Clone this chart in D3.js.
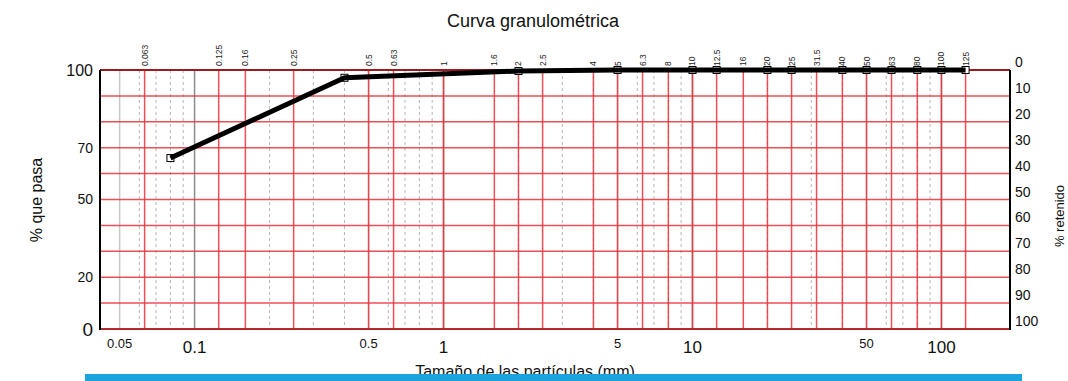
<!DOCTYPE html>
<html>
<head>
<meta charset="utf-8">
<script src="https://cdn.jsdelivr.net/npm/d3@7"></script>
<style>
  html, body { margin: 0; padding: 0; background: #fff; }
  svg { display: block; font-family: Arial, "Liberation Sans", sans-serif; }
</style>
</head>
<body>
<svg id="chart" width="1068" height="381"></svg>
<script>
// Sieve openings (mm) drawn as red reference lines and labelled along the top
const sieves = [0.063, 0.125, 0.16, 0.25, 0.5, 0.63, 1, 1.6, 2, 2.5, 4, 5, 6.3, 8, 10,
                12.5, 16, 20, 25, 31.5, 40, 50, 63, 80, 100, 125];
// Measured grading curve: particle size (mm) and percentage passing
const sizes = [0.08, 0.4, 2, 5, 10, 12.5, 20, 25, 40, 50, 63, 80, 100, 125];
const passing = [66, 97, 99.6, 100, 100, 100, 100, 100, 100, 100, 100, 100, 100, 100];
// Axis labels
const bottomMajor = [0.1, 1, 10, 100];
const bottomMinor = [0.05, 0.5, 5, 50];
const leftTicks = [0, 20, 50, 70, 100];
const rightTicks = [0, 10, 20, 30, 40, 50, 60, 70, 80, 90, 100];

const svg = d3.select("#chart");
const L = 100, R = 1010, T = 70, B = 329;

const x = d3.scaleLog().domain([0.0417, 188.5]).range([L, R]);
const y = d3.scaleLinear().domain([0, 100]).range([B, T]);
const yRet = d3.scaleLinear().domain([0, 100]).range([T, B]);

// Title
svg.append("text").attr("x", 533).attr("y", 27).attr("text-anchor", "middle")
  .attr("font-size", 18).attr("fill", "#111").text("Curva granulométrica");

const grid = svg.append("g");

// Logarithmic background lines (1..9 per decade)
const minor = [];
[0.01, 0.1, 1, 10, 100].forEach(d => {
  for (let k = 1; k <= 9; k++) {
    const v = +(d * k).toPrecision(3);
    if (v < x.domain()[0] || v > x.domain()[1]) continue;
    minor.push(v);
  }
});
minor.forEach(v => {
  const isDecade = Math.abs(Math.log10(v) - Math.round(Math.log10(v))) < 1e-6;
  const isFive = Math.abs(Math.log10(v / 5) - Math.round(Math.log10(v / 5))) < 1e-6;
  grid.append("line")
    .attr("x1", x(v)).attr("x2", x(v)).attr("y1", T).attr("y2", B)
    .attr("stroke", isDecade ? "#8c8c8c" : (isFive ? "#c8c8c8" : "#b5b5b5"))
    .attr("stroke-width", isDecade || isFive ? 1.5 : 1)
    .attr("stroke-dasharray", isDecade || isFive ? null : "3,3");
});

// Horizontal percentage lines
d3.range(10, 100, 10).forEach(v => {
  grid.append("line")
    .attr("x1", L).attr("x2", R).attr("y1", y(v)).attr("y2", y(v))
    .attr("stroke", "#e8323a").attr("stroke-width", 1.5).attr("opacity", 0.85);
});

// Sieve lines
sieves.forEach(s => {
  grid.append("line")
    .attr("x1", x(s)).attr("x2", x(s)).attr("y1", T).attr("y2", B)
    .attr("stroke", "#e8323a").attr("stroke-width", 1.5).attr("opacity", 0.85);
  svg.append("text")
    .attr("transform", `translate(${x(s) + 3},${T - 4}) rotate(-90)`)
    .attr("font-size", 8.5).attr("fill", "#222").text(s);
});

// Plot frame
svg.append("line").attr("x1", L).attr("x2", R).attr("y1", T).attr("y2", T)
  .attr("stroke", "#9b1b1e").attr("stroke-width", 2);
svg.append("line").attr("x1", L).attr("x2", R).attr("y1", B).attr("y2", B)
  .attr("stroke", "#b02a2a").attr("stroke-width", 2);
svg.append("line").attr("x1", L).attr("x2", L).attr("y1", T).attr("y2", B + 1)
  .attr("stroke", "#000").attr("stroke-width", 2);
svg.append("line").attr("x1", R).attr("x2", R).attr("y1", T).attr("y2", B + 1)
  .attr("stroke", "#000").attr("stroke-width", 2);

// Left axis labels (% passing)
leftTicks.forEach(v => {
  const big = v === 0 || v === 100;
  svg.append("text").attr("x", 93).attr("y", y(v)).attr("dy", "0.35em")
    .attr("text-anchor", "end").attr("font-size", big ? (v === 0 ? 19 : 16) : 14)
    .attr("fill", "#111").text(v);
});

// Right axis labels (% retained)
rightTicks.forEach(v => {
  svg.append("text").attr("x", 1015).attr("y", yRet(v) - 3)
    .attr("font-size", 14).attr("fill", "#111").text(v);
});

// Bottom axis labels
bottomMajor.forEach(v => {
  svg.append("text").attr("x", x(v)).attr("y", 353).attr("text-anchor", "middle")
    .attr("font-size", 17).attr("fill", "#111").text(v);
});
bottomMinor.forEach(v => {
  svg.append("text").attr("x", x(v)).attr("y", 348).attr("text-anchor", "middle")
    .attr("font-size", 13).attr("fill", "#111").text(v);
});

// Axis titles
svg.append("text").attr("transform", "translate(42,200) rotate(-90)")
  .attr("text-anchor", "middle").attr("font-size", 16).attr("fill", "#111").text("% que pasa");
svg.append("text").attr("transform", "translate(1064,216) rotate(-90)")
  .attr("text-anchor", "middle").attr("font-size", 13).attr("fill", "#111").text("% retenido");
svg.append("text").attr("x", 525).attr("y", 377).attr("text-anchor", "middle")
  .attr("font-size", 16).attr("fill", "#111").text("Tamaño de las partículas (mm)");

// Grading curve: markers first, then the thick line over them
const pts = sizes.map((s, i) => [s, passing[i]]);
svg.selectAll("rect.pt").data(pts).enter().append("rect")
  .attr("class", "pt")
  .attr("x", d => x(d[0]) - 3.5).attr("y", d => y(d[1]) - 3.5)
  .attr("width", 7).attr("height", 7)
  .attr("fill", "#fff").attr("stroke", "#000").attr("stroke-width", 1);
svg.append("path").datum(pts)
  .attr("fill", "none").attr("stroke", "#000").attr("stroke-width", 5)
  .attr("stroke-linejoin", "round")
  .attr("d", d3.line().x(d => x(d[0])).y(d => y(d[1])));

// Blue band at the bottom edge
svg.append("rect").attr("x", 85).attr("y", 374).attr("width", 937).attr("height", 8)
  .attr("fill", "#1aa3dc");
</script>
</body>
</html>
